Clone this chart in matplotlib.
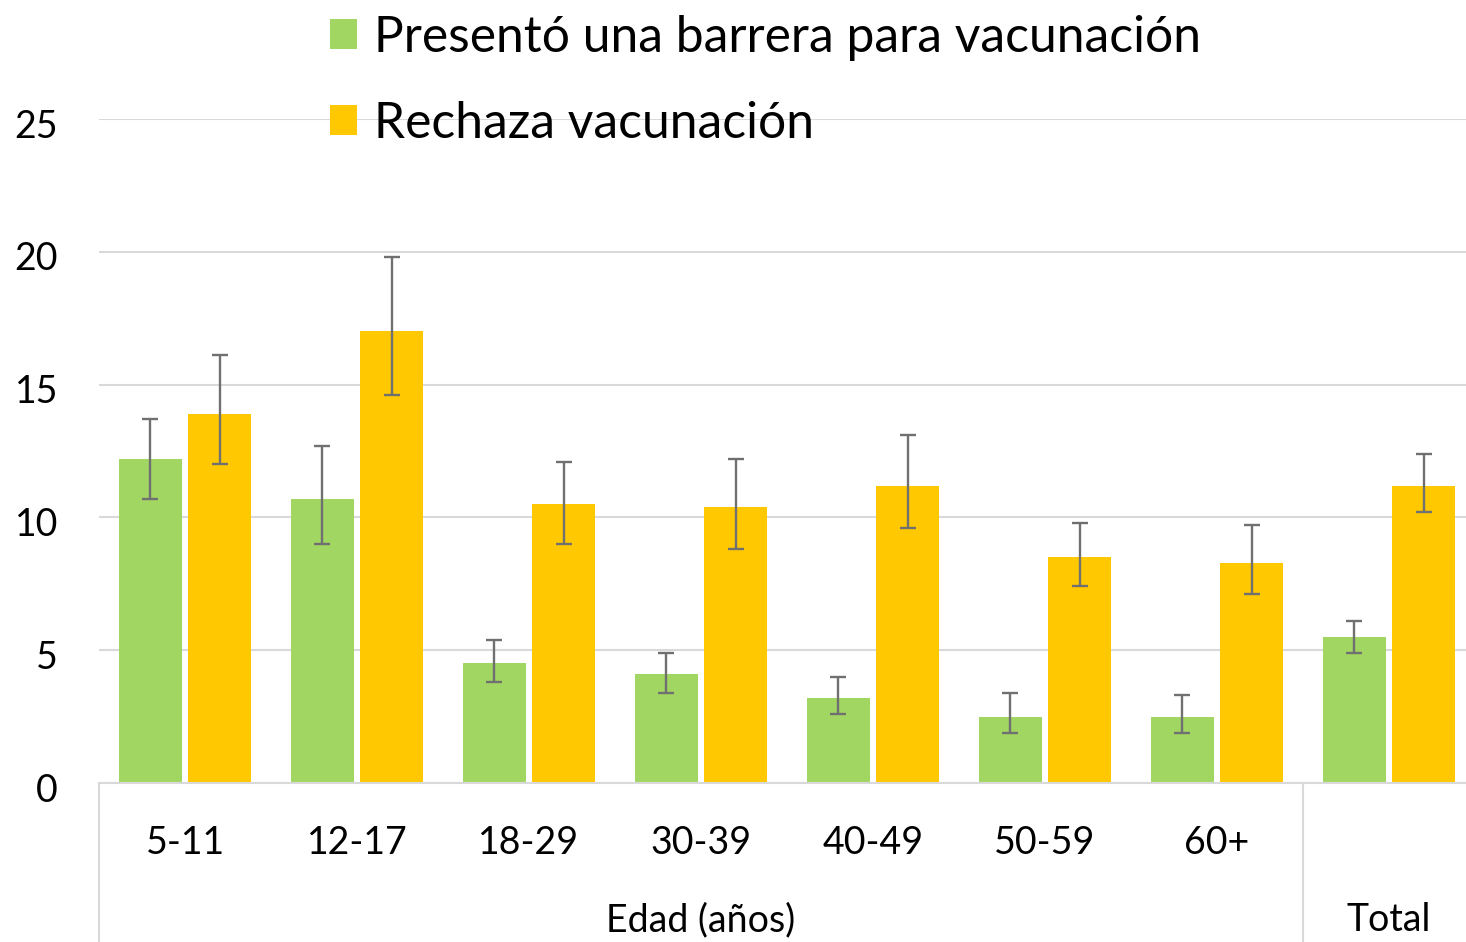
import numpy as np
import matplotlib
matplotlib.use("Agg")
import matplotlib.pyplot as plt
from matplotlib.transforms import ScaledTranslation

plt.rcParams['font.family'] = ['Lato', 'DejaVu Sans']

# datos
categorias = ["5-11", "12-17", "18-29", "30-39", "40-49", "50-59", "60+", ""]
barrera = [12.2, 10.7, 4.5, 4.1, 3.2, 2.5, 2.5, 5.5]
barrera_inf = [10.7, 9.0, 3.8, 3.4, 2.6, 1.9, 1.9, 4.9]
barrera_sup = [13.7, 12.7, 5.4, 4.9, 4.0, 3.4, 3.3, 6.1]
rechazo = [13.9, 17.0, 10.5, 10.4, 11.2, 8.5, 8.3, 11.2]
rechazo_inf = [12.0, 14.6, 9.0, 8.8, 9.6, 7.4, 7.1, 10.2]
rechazo_sup = [16.1, 19.8, 12.1, 12.2, 13.1, 9.8, 9.7, 12.4]
yticks = [0, 5, 10, 15, 20, 25]

verde = '#A2D663'
amarillo = '#FFC800'
gris = '#D9D9D9'
err_color = '#707070'

W, H = 1466, 942
fig = plt.figure(figsize=(W / 100, H / 100), dpi=100)
ax = fig.add_axes([99 / W, 159 / H, 1376 / W, 664 / H])

x = np.arange(len(categorias))
ancho = 0.366
desp = 0.203

b = np.array(barrera)
r = np.array(rechazo)
ax.bar(x - desp, b, ancho, color=verde, zorder=2, label='Presentó una barrera para vacunación')
ax.bar(x + desp, r, ancho, color=amarillo, zorder=2, label='Rechaza vacunación')

ekw = dict(fmt='none', ecolor=err_color, elinewidth=1.7, capsize=5.8, capthick=1.7, zorder=3)
ax.errorbar(x - desp, b, yerr=[b - np.array(barrera_inf), np.array(barrera_sup) - b], **ekw)
ax.errorbar(x + desp, r, yerr=[r - np.array(rechazo_inf), np.array(rechazo_sup) - r], **ekw)

ax.set_xlim(-0.5, len(categorias) - 0.5)
ax.set_ylim(0, 25)
ax.set_yticks(yticks)
ax.set_xticks(x)
ax.set_xticklabels(categorias)
ax.tick_params(axis='both', length=0, labelsize=27)
ax.tick_params(axis='y', pad=29.5)
ax.tick_params(axis='x', pad=30)
# las etiquetas del eje y quedan un poco por debajo de la linea
bajar = ScaledTranslation(0, -4 / 100, fig.dpi_scale_trans)
for lab in ax.get_yticklabels():
    lab.set_transform(lab.get_transform() + bajar)

ax.grid(axis='y', color=gris, linewidth=1.5, zorder=0)
for s in ['top', 'right', 'left']:
    ax.spines[s].set_visible(False)
ax.spines['bottom'].set_color(gris)
ax.spines['bottom'].set_linewidth(1.5)

# separadores del eje de categorias en dos niveles
bajo = -160 / 664
for xs in [-0.5, 6.5, 7.5]:
    ax.plot([xs, xs], [0, bajo], transform=ax.get_xaxis_transform(), color=gris,
            linewidth=1.5, clip_on=False)
ax.text(3.0, -137 / 664, 'Edad (años)', transform=ax.get_xaxis_transform(),
        ha='center', va='center', fontsize=27)
ax.text(7.0, -137 / 664, 'Total', transform=ax.get_xaxis_transform(),
        ha='center', va='center', fontsize=27)

fig.legend(loc='upper left', bbox_to_anchor=(330 / W, 1 - 15 / H), frameon=False,
           fontsize=35.8, handlelength=0.55, handleheight=0.55, handletextpad=0.33,
           labelspacing=0.80, borderaxespad=0, borderpad=0)

fig.savefig('out.png', dpi=100)
